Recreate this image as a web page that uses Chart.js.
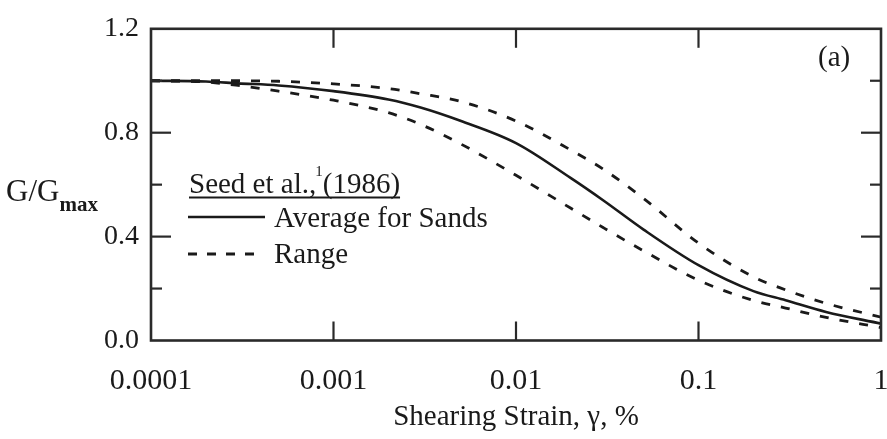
<!DOCTYPE html>
<html><head><meta charset="utf-8">
<script src="https://cdn.jsdelivr.net/npm/chart.js@4.4.1/dist/chart.umd.min.js"></script>
<style>html,body{margin:0;padding:0;background:#fff;}#wrap{width:887px;height:439px;position:relative;}</style>
</head><body><div id="wrap"><canvas id="c" width="887" height="439"></canvas></div>
<script>
// Shearing strain (%) at which values were read
const strainPct   = [0.0001, 0.0002, 0.0003, 0.0005, 0.001, 0.002, 0.003, 0.005, 0.01, 0.02, 0.03, 0.05, 0.1, 0.2, 0.3, 0.5, 1];
// G/Gmax – average for sands (solid)
const avgSands    = [1.000, 0.997, 0.990, 0.982, 0.960, 0.928, 0.897, 0.845, 0.760, 0.625, 0.540, 0.427, 0.290, 0.190, 0.155, 0.110, 0.065];
// G/Gmax – range, upper bound (dashed)
const rangeUpper  = [1.000, 1.000, 1.000, 0.998, 0.988, 0.970, 0.950, 0.920, 0.845, 0.733, 0.660, 0.547, 0.375, 0.245, 0.195, 0.143, 0.090];
// G/Gmax – range, lower bound (dashed)
const rangeLower  = [1.000, 0.995, 0.982, 0.960, 0.925, 0.877, 0.832, 0.756, 0.636, 0.509, 0.435, 0.345, 0.232, 0.154, 0.125, 0.089, 0.050];

const xTickValues = [0.0001, 0.001, 0.01, 0.1, 1];
const xTickLabels = ['0.0001', '0.001', '0.01', '0.1', '1'];
const yTickLabels = ['0.0', '0.4', '0.8', '1.2'];
const xTitle = 'Shearing Strain, γ, %';
const legendTitle = ['Seed et al.,', '1', '(1986)'];
const legendItems = ['Average for Sands', 'Range'];
const panelLabel = '(a)';

const FONT = '"Liberation Serif", "Times New Roman", serif';
const INK = '#1a1a1a';

function pts(ys){ return strainPct.map((x,i)=>({x:x, y:ys[i]})); }

const decor = {
  id:'decor',
  afterDraw(chart){
    const {ctx, chartArea:a, scales:{x,y}} = chart;
    ctx.save();
    ctx.strokeStyle = '#2a2a2a';
    ctx.lineWidth = 2.6;
    ctx.strokeRect(a.left, a.top, a.right-a.left, a.bottom-a.top);
    ctx.lineWidth = 2.2;
    const seg=(x1,y1,x2,y2)=>{ctx.beginPath();ctx.moveTo(x1,y1);ctx.lineTo(x2,y2);ctx.stroke();};
    x.ticks.forEach(t=>{
      const px = x.getPixelForValue(t.value);
      if (px < a.left+2 || px > a.right-2) return;
      seg(px, a.bottom, px, a.bottom-19);
      seg(px, a.top, px, a.top+19);
    });
    y.ticks.forEach(t=>{
      const py = y.getPixelForValue(t.value);
      if (py < a.top+2 || py > a.bottom-2) return;
      const k = t.value/0.4;
      const major = Math.abs(k-Math.round(k))<1e-6;
      const L = major ? 20 : 11;
      seg(a.left, py, a.left+L, py);
      seg(a.right, py, a.right-L, py);
    });

    // Y axis title G/Gmax
    ctx.fillStyle = INK;
    ctx.textBaseline = 'alphabetic';
    ctx.textAlign = 'left';
    ctx.font = '31px ' + FONT;
    ctx.fillText('G/G', 6, 201);
    const wGG = ctx.measureText('G/G').width;
    ctx.font = 'bold 21px ' + FONT;
    ctx.fillText('max', 6+wGG, 211);

    // Legend
    ctx.font = '29px ' + FONT;
    const lx = 189;
    ctx.fillText(legendTitle[0], lx, 193);
    let w0 = ctx.measureText(legendTitle[0]).width;
    ctx.font = '15px ' + FONT;
    ctx.fillText(legendTitle[1], lx+w0-1, 176);
    let w1 = ctx.measureText(legendTitle[1]).width;
    ctx.font = '29px ' + FONT;
    ctx.fillText(legendTitle[2], lx+w0+w1-1, 193);
    const wEnd = lx+w0+w1-1+ctx.measureText(legendTitle[2]).width;
    ctx.lineWidth = 1.8; ctx.strokeStyle = INK;
    seg(lx, 197.5, wEnd, 197.5);

    ctx.lineWidth = 2.6;
    seg(lx-1, 217, 265, 217);
    ctx.fillText(legendItems[0], 274, 227);
    ctx.setLineDash([9,10]);
    ctx.lineWidth = 2.8;
    seg(lx-1, 254, 260, 254);
    ctx.setLineDash([]);
    ctx.fillText(legendItems[1], 274, 263);

    // panel label
    ctx.fillText(panelLabel, 818, 66);
    ctx.restore();
  }
};

new Chart(document.getElementById('c'), {
  type:'line',
  data:{ datasets:[
    {label:'Average for Sands', data:pts(avgSands), borderColor:INK, borderWidth:2.6, pointRadius:0, cubicInterpolationMode:'monotone', fill:false},
    {label:'Range (upper)', data:pts(rangeUpper), borderColor:INK, borderWidth:2.8, borderDash:[9,11], pointRadius:0, cubicInterpolationMode:'monotone', fill:false},
    {label:'Range (lower)', data:pts(rangeLower), borderColor:INK, borderWidth:2.8, borderDash:[9,11], pointRadius:0, cubicInterpolationMode:'monotone', fill:false}
  ]},
  options:{
    responsive:false, animation:false, devicePixelRatio:1,
    layout:{padding:{top:20, right:6, left:0, bottom:0}},
    plugins:{legend:{display:false}, tooltip:{enabled:false}},
    scales:{
      x:{
        type:'logarithmic', min:0.0001, max:1,
        grid:{display:false, drawTicks:false}, border:{display:false},
        afterBuildTicks(s){ s.ticks = xTickValues.map(v=>({value:v})); },
        afterFit(s){ s.height = 98.5; s.paddingLeft = 0; s.paddingRight = 0; },
        ticks:{ color:INK, padding:23, maxRotation:0, autoSkip:false,
          font:{family:FONT, size:30},
          callback:(v,i)=> xTickLabels[i] },
        title:{display:true, text:xTitle, color:INK, font:{family:FONT, size:29}, padding:{top:0, bottom:4}}
      },
      y:{
        min:0, max:1.2,
        grid:{display:false, drawTicks:false}, border:{display:false},
        afterFit(s){ s.width = 151; },
        ticks:{ stepSize:0.2, color:INK, padding:12, font:{family:FONT, size:28},
          callback:(v)=>{ const k=v/0.4; return Math.abs(k-Math.round(k))<1e-6 ? yTickLabels[Math.round(k)] : ''; } }
      }
    }
  },
  plugins:[decor]
});
</script></body></html>
